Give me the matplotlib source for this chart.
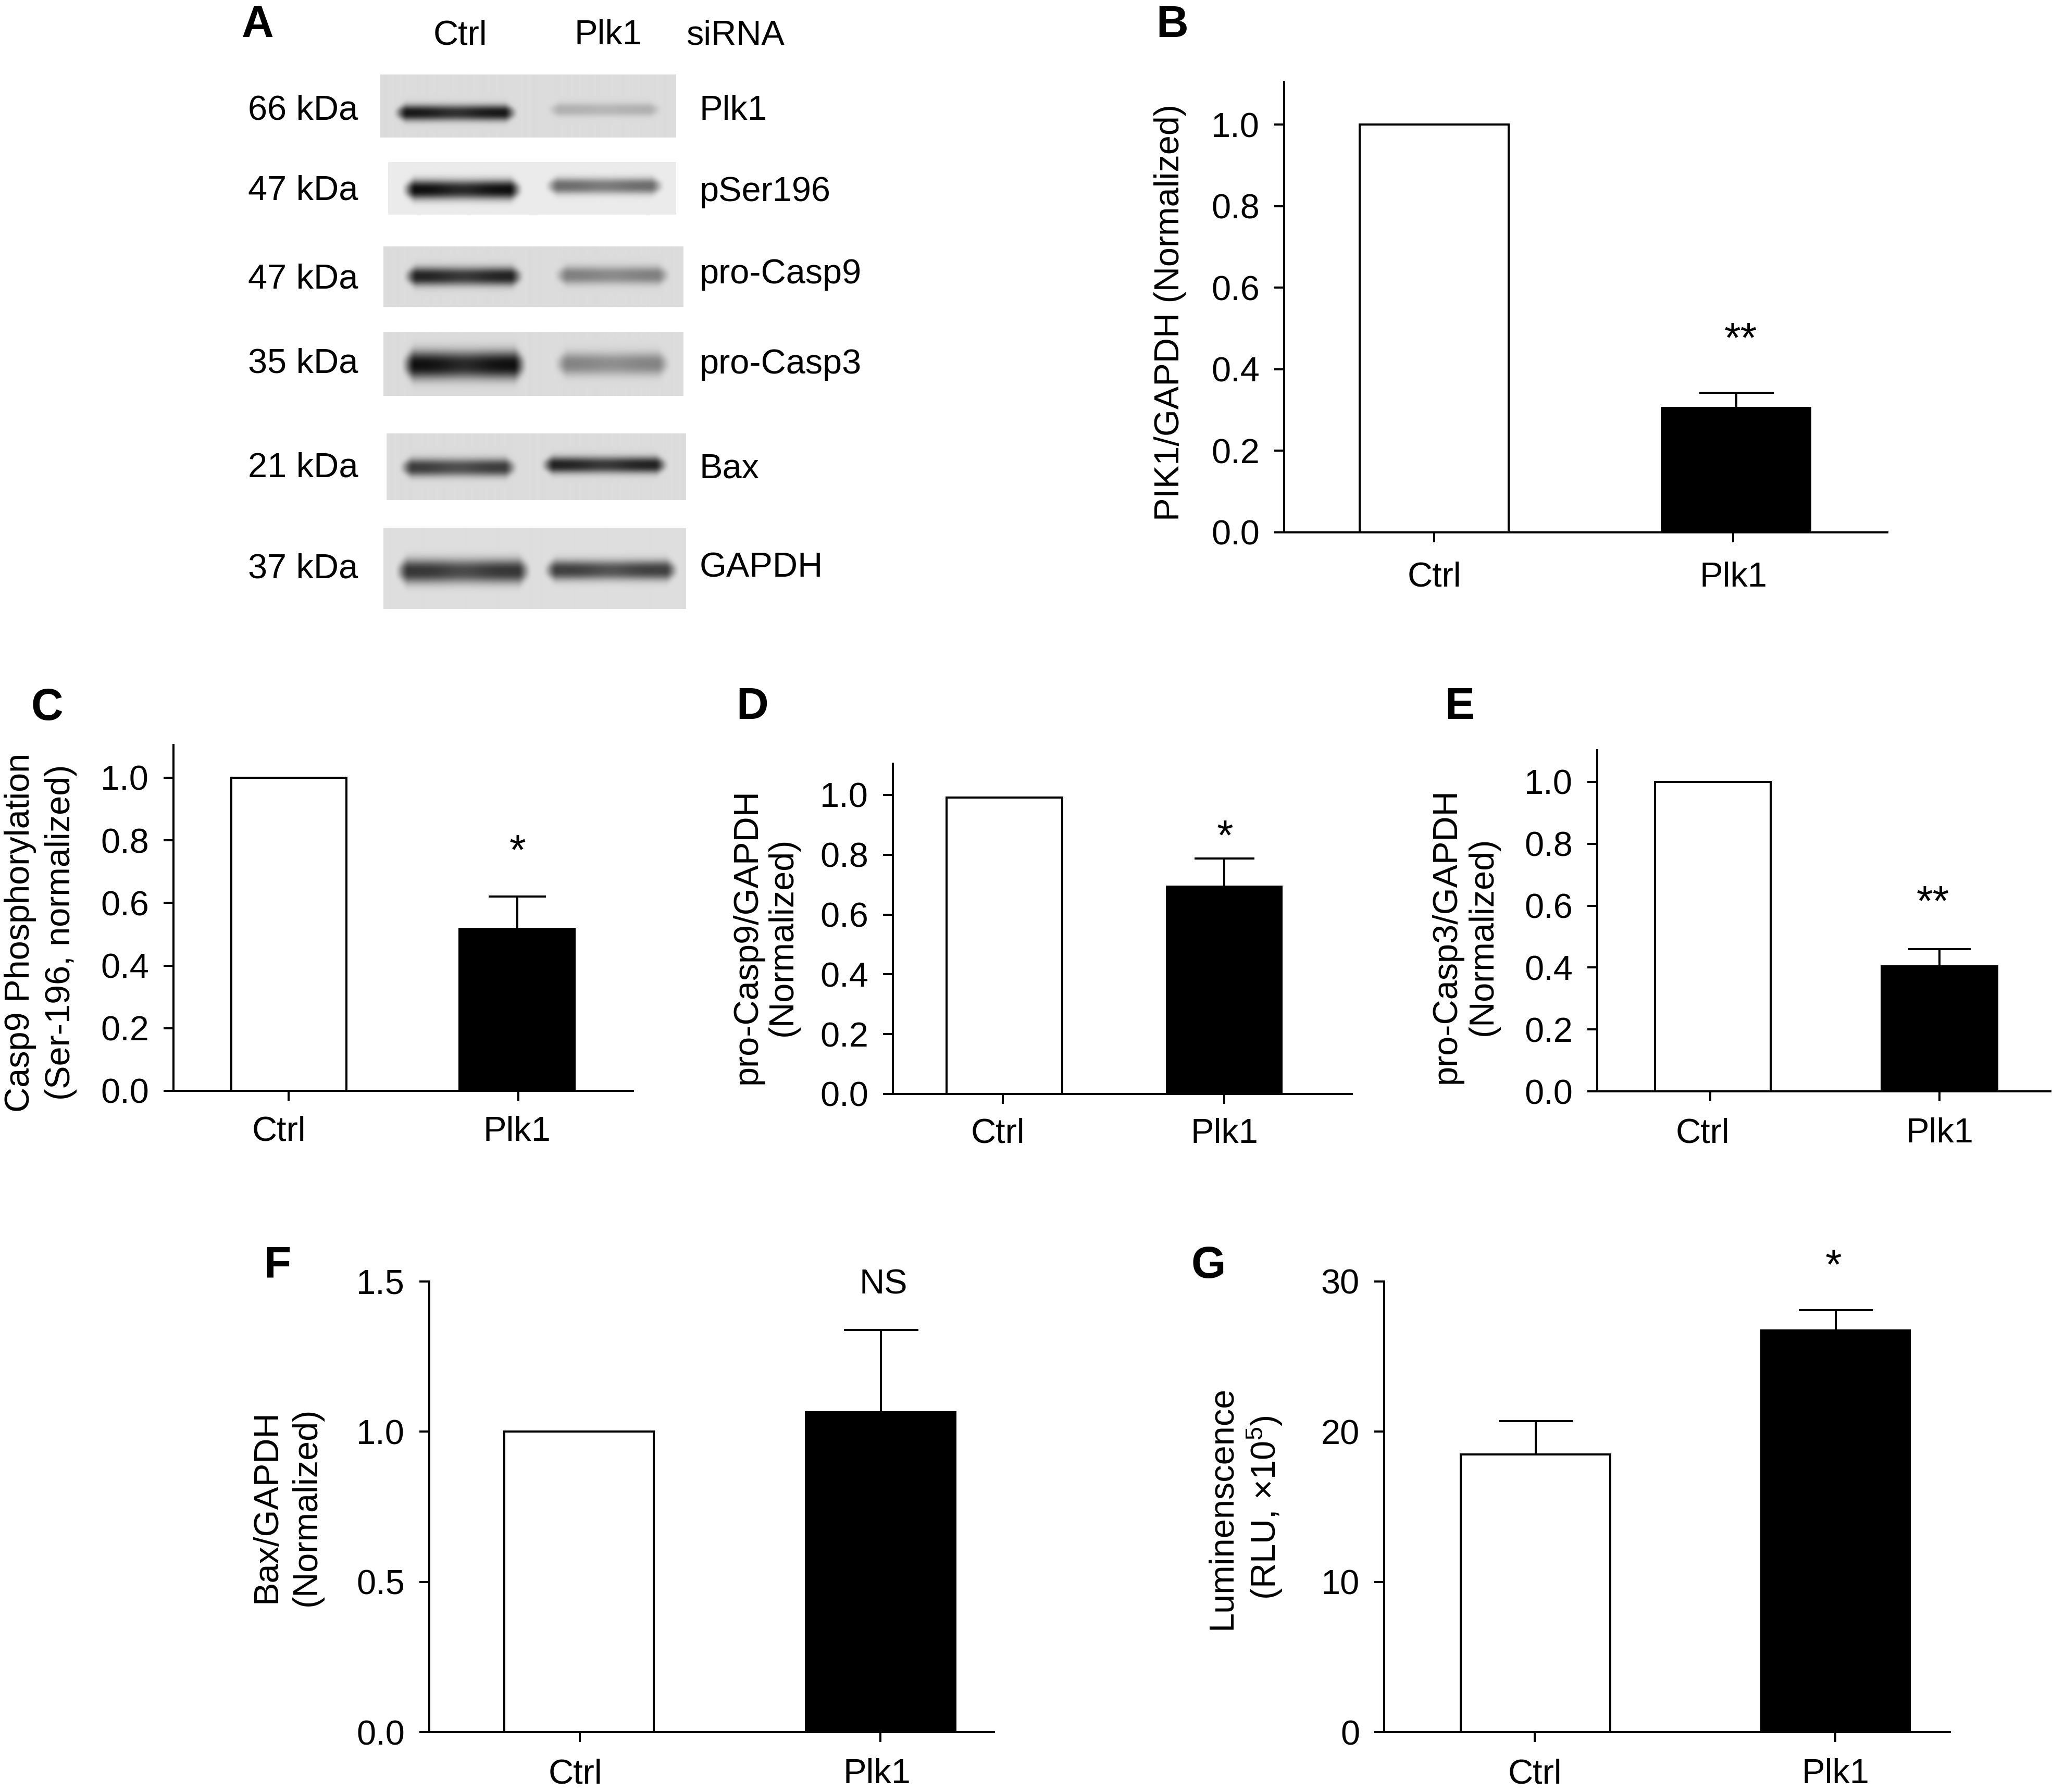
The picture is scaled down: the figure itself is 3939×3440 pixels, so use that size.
#!/usr/bin/env python3
"""Western blot panel plus six Ctrl / Plk1 bar panels."""

import numpy as np
import matplotlib
matplotlib.use("Agg")
import matplotlib.pyplot as plt
from matplotlib.transforms import ScaledTranslation

plt.rcParams["font.family"] = ["Liberation Sans", "DejaVu Sans"]
plt.rcParams["mathtext.default"] = "regular"

W, H = 3939, 3440
DPI = 300
PX = 72 / DPI  # points per pixel

CATEGORIES = ["Ctrl", "Plk1"]

# bar values
B_VALUES = [1.0, 0.308]
B_ERRORS = [0.0, 0.034]
C_VALUES = [1.0, 0.52]
C_ERRORS = [0.0, 0.10]
D_VALUES = [0.992, 0.697]
D_ERRORS = [0.0, 0.09]
E_VALUES = [1.0, 0.408]
E_ERRORS = [0.0, 0.052]
F_VALUES = [1.0, 1.069]
F_ERRORS = [0.0, 0.27]
G_VALUES = [18.47, 26.8]
G_ERRORS = [2.23, 1.3]

TICKS_NORM = [0.0, 0.2, 0.4, 0.6, 0.8, 1.0]
TICKS_F = [0.0, 0.5, 1.0, 1.5]
TICKS_G = [0, 10, 20, 30]

# blot panel
BLOT_NAMES = ["Plk1", "pSer196", "pro-Casp9", "pro-Casp3", "Bax", "GAPDH"]
BLOT_SIZES = ["66 kDa", "47 kDa", "47 kDa", "35 kDa", "21 kDa", "37 kDa"]
BLOT_BG = [0.86, 0.92, 0.86, 0.86, 0.86, 0.87]
CTRL_PEAK = [1.0, 1.05, 0.95, 1.05, 0.82, 0.85]
PLK1_PEAK = [0.22, 0.6, 0.47, 0.45, 0.95, 0.8]

# pixel layout of the blots: box (x0, x1, y0, y1), then the two bands (x0, x1, y, thickness)
BLOT_BOXES = [(730, 1297, 143, 264), (745, 1297, 311, 412), (736, 1311, 473, 589),
              (736, 1311, 637, 760), (742, 1316, 832, 960), (736, 1316, 1014, 1169)]
CTRL_BANDS = [(752, 996, 216, 24), (768, 1006, 364, 29), (771, 1008, 530, 28),
              (767, 1014, 700, 42), (763, 996, 897, 27), (755, 1022, 1096, 36)]
PLK1_BANDS = [(1046, 1273, 210, 20), (1042, 1277, 357, 24), (1060, 1289, 528, 27),
              (1060, 1289, 698, 34), (1034, 1285, 892, 25), (1039, 1305, 1094, 30)]
BLOT_NAME_Y = [213, 369, 527, 700, 900, 1090]
BLOT_SIZE_Y = [213, 366, 537, 698, 899, 1092]

# pixel layout of the bar panels
PANELS = [
    dict(values=B_VALUES, errors=B_ERRORS, ticks=TICKS_NORM, fmt="%.1f",
         left=2465, right=3623, top=158, y0=1022, yref=239, ref=1.0,
         xt=(2753, 3327), white=(2610, 2896), black=(3188, 3477), cap=143,
         ylabel="PIK1/GAPDH (Normalized)", label_x=2246, label_y=600, spacing=1.05,
         mark="**", mark_xy=(3341, 654), lab_dx=(0, 0), lab_pad=37),
    dict(values=C_VALUES, errors=C_ERRORS, ticks=TICKS_NORM, fmt="%.1f",
         left=333, right=1215, top=1430, y0=2094, yref=1493, ref=1.0,
         xt=(554, 995), white=(444, 665), black=(880, 1105), cap=110,
         ylabel="Casp9 Phosphorylation\n(Ser-196, normalized)", label_x=78, label_y=1790, spacing=1.33,
         mark="*", mark_xy=(993, 1637), lab_dx=(-19, -3), lab_pad=29),
    dict(values=D_VALUES, errors=D_ERRORS, ticks=TICKS_NORM, fmt="%.1f",
         left=1714, right=2595, top=1466, y0=2100, yref=1526, ref=1.0,
         xt=(1925, 2350), white=(1817, 2039), black=(2238, 2462), cap=115,
         ylabel="pro-Casp9/GAPDH\n(Normalized)", label_x=1469, label_y=1798, spacing=1.13,
         mark="*", mark_xy=(2351, 1609), lab_dx=(-10, 0), lab_pad=27),
    dict(values=E_VALUES, errors=E_ERRORS, ticks=TICKS_NORM, fmt="%.1f",
         left=3066, right=3936, top=1440, y0=2095, yref=1501, ref=1.0,
         xt=(3283, 3723), white=(3177, 3399), black=(3610, 3836), cap=120,
         ylabel="pro-Casp3/GAPDH\n(Normalized)", label_x=2812, label_y=1797, spacing=1.18,
         mark="**", mark_xy=(3710, 1735), lab_dx=(-15, 0), lab_pad=31),
    dict(values=F_VALUES, errors=F_ERRORS, ticks=TICKS_F, fmt="%.1f",
         left=824, right=1908, top=2460, y0=3325, yref=2460, ref=1.5,
         xt=(1113, 1690), white=(968, 1255), black=(1545, 1836), cap=143,
         ylabel="Bax/GAPDH\n(Normalized)", label_x=551, label_y=2892, spacing=1.3,
         mark="NS", mark_xy=(1696, 2466), lab_dx=(-9, -7), lab_pad=31),
    dict(values=G_VALUES, errors=G_ERRORS, ticks=TICKS_G, fmt="%d",
         left=2657, right=3743, top=2460, y0=3325, yref=2460, ref=30,
         xt=(2946, 3523), white=(2804, 3091), black=(3379, 3668), cap=142,
         ylabel="Luminenscence\n(RLU, ×10$^{5}$)", label_x=2390, label_y=2894, spacing=1.22,
         mark="*", mark_xy=(3519, 2433), lab_dx=(0, 0), lab_pad=31),
]

LETTERS = ["A", "B", "C", "D", "E", "F", "G"]
LETTER_XY = [(495, 49), (2250, 49), (90, 1360), (1444, 1358), (2802, 1358), (532, 2431), (2320, 2431)]

FS = 16
STAR_FS = 19.5
LW = 4 * PX


def px_text(fig, x, y, s, **kw):
    kw.setdefault("fontsize", FS)
    kw.setdefault("ha", "center")
    kw.setdefault("va", "center")
    fig.text(x / W, 1 - y / H, s, **kw)


def px_axes(fig, x0, x1, y0, y1):
    return fig.add_axes([x0 / W, 1 - y1 / H, (x1 - x0) / W, (y1 - y0) / H])


def paint_band(img, box, band, peak, bg):
    x0, x1, y0, y1 = box
    bx0, bx1, by, thick = band
    xs = np.arange(x0, x1)[None, :]
    ys = np.arange(y0, y1)[:, None]
    edge = 30.0
    ramp = np.clip((xs - bx0) / edge, 0, 1) * np.clip((bx1 - xs) / edge, 0, 1)
    along = ramp * ramp * (3 - 2 * ramp)
    # bands sag a little in the middle of the lane
    mid = (bx0 + bx1) / 2
    sag = 1 - 0.12 * np.exp(-((xs - mid) / 45.0) ** 2)
    # ends of the band are rounded
    width = thick * 0.62 * (0.55 + 0.45 * along)
    across = np.exp(-np.abs((ys - by) / width) ** 2.4)
    img -= (bg - 0.1) * peak * along * sag * across


def draw_blots(fig):
    for i, box in enumerate(BLOT_BOXES):
        x0, x1, y0, y1 = box
        img = np.full((y1 - y0, x1 - x0), BLOT_BG[i])
        paint_band(img, box, CTRL_BANDS[i], CTRL_PEAK[i], BLOT_BG[i])
        paint_band(img, box, PLK1_BANDS[i], PLK1_PEAK[i], BLOT_BG[i])
        ax = px_axes(fig, x0, x1, y0, y1)
        ax.imshow(np.clip(img, 0, 1), cmap="gray", vmin=0, vmax=1, aspect="auto", interpolation="bilinear")
        ax.axis("off")
        px_text(fig, 476, BLOT_SIZE_Y[i], BLOT_SIZES[i], ha="left")
        px_text(fig, 1343, BLOT_NAME_Y[i], BLOT_NAMES[i], ha="left")

    px_text(fig, 883, 68, "Ctrl")
    px_text(fig, 1167, 68, "Plk1")
    px_text(fig, 1317, 68, "siRNA", ha="left")


def draw_panel(fig, p):
    ax = px_axes(fig, p["left"], p["right"], p["top"], p["y0"])
    t0, t1 = p["xt"]
    to_x = lambda v: (v - t0) / (t1 - t0)
    ax.set_xlim(to_x(p["left"]), to_x(p["right"]))
    ax.set_ylim(0, p["ref"] * (p["y0"] - p["top"]) / (p["y0"] - p["yref"]))

    edges = [p["white"], p["black"]]
    colors = ["white", "black"]
    bar_lw = [LW, 0]  # the filled bar has no outline of its own
    for i, (a, b) in enumerate(edges):
        center = to_x((a + b) / 2)
        if p["errors"][i] > 0:
            _, caps, _ = ax.errorbar(center, p["values"][i], yerr=[[0], [p["errors"][i]]], color="black",
                                     elinewidth=LW, capthick=LW, capsize=p["cap"] / 2 * PX,
                                     clip_on=False, zorder=2)
            caps[0].set_visible(False)  # only the upper cap shows
        ax.bar(center, p["values"][i], width=(b - a) / (t1 - t0), color=colors[i],
               edgecolor="black", linewidth=bar_lw[i], clip_on=False, zorder=3)

    for side in ["top", "right"]:
        ax.spines[side].set_visible(False)
    for side in ["left", "bottom"]:
        ax.spines[side].set_linewidth(LW)
        ax.spines[side].set_zorder(4)

    ax.set_xticks([0, 1])
    ax.set_xticklabels(CATEGORIES, fontsize=FS)
    ax.set_yticks(p["ticks"])
    ax.set_yticklabels([p["fmt"] % t for t in p["ticks"]], fontsize=FS)
    ax.tick_params(axis="y", length=19 * PX, width=LW, pad=28 * PX)
    ax.tick_params(axis="x", length=19 * PX, width=LW, pad=p["lab_pad"] * PX)
    for lab, dx in zip(ax.get_xticklabels(), p["lab_dx"]):
        lab.set_transform(lab.get_transform() + ScaledTranslation(dx / DPI, 0, fig.dpi_scale_trans))

    px_text(fig, p["label_x"], p["label_y"], p["ylabel"], rotation=90, linespacing=p["spacing"])
    mark_fs = FS if p["mark"] == "NS" else STAR_FS
    px_text(fig, *p["mark_xy"], p["mark"], fontsize=mark_fs)


def main():
    fig = plt.figure(figsize=(W / DPI, H / DPI), dpi=DPI)
    draw_blots(fig)
    for p in PANELS:
        draw_panel(fig, p)
    for s, (x, y) in zip(LETTERS, LETTER_XY):
        px_text(fig, x, y, s, fontsize=20.5, fontweight="bold")
    fig.savefig("out.png", dpi=DPI)


if __name__ == "__main__":
    main()
